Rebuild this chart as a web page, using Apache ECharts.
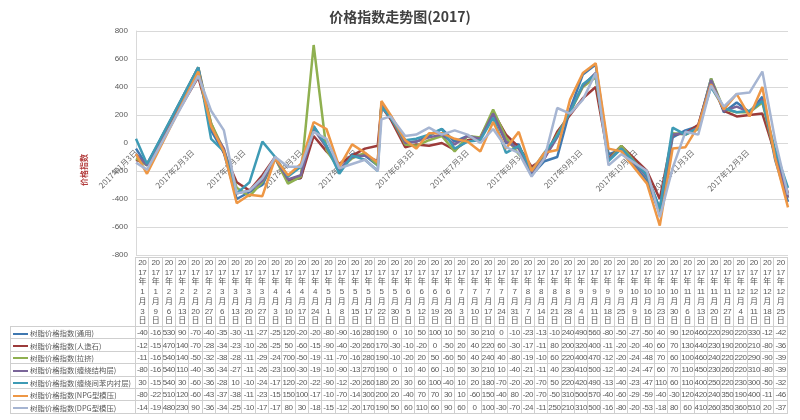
<!DOCTYPE html>
<html><head><meta charset="utf-8">
<script src="https://cdn.jsdelivr.net/npm/echarts@6/dist/echarts.min.js"></script>
<style>
html,body{margin:0;padding:0;background:#fff;}
#wrap{position:relative;width:800px;height:420px;overflow:hidden;background:#fff;}
#chart{position:absolute;left:0;top:0;width:800px;height:420px;}
#tbl{position:absolute;left:10px;top:257px;border-collapse:collapse;table-layout:fixed;width:778px;font-family:"Liberation Sans","Noto Sans CJK SC",sans-serif;color:#595959;}
#tbl td{border:1px solid #cfcfcf;padding:0;text-align:center;font-size:8px;white-space:nowrap;overflow:visible;letter-spacing:-0.4px;}
#tbl tr.hd td{height:68px;line-height:9.7px;vertical-align:middle;}
#tbl tr.dr td{height:11.4px;line-height:11px;}
#tbl td.lg{text-align:left;font-size:7.4px;letter-spacing:0;font-family:"Noto Sans CJK SC",sans-serif;}
#tbl td.blank{border:none;border-bottom:1px solid #cfcfcf;}
.mk{display:inline-block;width:15px;height:2px;vertical-align:middle;margin:0 2px 1px 2px;}
</style></head>
<body><div id="wrap"><div id="chart"></div><table id="tbl"></table></div>
<script>
const dates = ['2017-01-03','2017-01-09','2017-02-06','2017-02-13','2017-02-20','2017-02-27','2017-03-06','2017-03-13','2017-03-20','2017-03-27',
'2017-04-03','2017-04-10','2017-04-17','2017-04-24','2017-05-01','2017-05-08','2017-05-15','2017-05-17','2017-05-22','2017-05-30',
'2017-06-05','2017-06-12','2017-06-19','2017-06-26','2017-07-03','2017-07-10','2017-07-17','2017-07-24','2017-07-31','2017-08-07',
'2017-08-14','2017-08-21','2017-08-28','2017-09-04','2017-09-11','2017-09-18','2017-09-25','2017-10-09','2017-10-16','2017-10-23',
'2017-10-30','2017-11-06','2017-11-13','2017-11-20','2017-11-27','2017-12-04','2017-12-11','2017-12-18','2017-12-25'];

const monthTicks = ['2017-01-03','2017-02-03','2017-03-03','2017-04-03','2017-05-03','2017-06-03','2017-07-03','2017-08-03','2017-09-03','2017-10-03','2017-11-03','2017-12-03'];

const seriesNames = ['树脂价格指数(通用)','树脂价格指数(人造石)','树脂价格指数(拉挤)','树脂价格指数(缠绕结构层)','树脂价格指数(缠绕间苯内衬层)','树脂价格指数(NPG型模压)','树脂价格指数(DPG型模压)'];

const general = [-40,-160,530,90,-70,-400,-350,-300,-110,-270,-250,120,-20,-200,-80,-90,-160,280,190,0,10,50,100,10,50,30,210,0,-10,-230,-130,-100,240,490,560,-80,-50,-270,-500,40,90,120,460,220,290,220,330,-120,-420];
const artStone = [-120,-150,470,140,-70,-280,-340,-230,-100,-260,-250,50,-60,-150,-90,-40,-20,260,170,-30,-10,-20,0,-50,20,40,220,60,-30,-170,-110,80,200,320,400,-110,-20,-200,-400,60,70,130,440,230,190,200,210,-80,-360];
const pultrusion = [-110,-160,540,140,-50,-320,-380,-280,-110,-290,-240,700,-50,-190,-110,-70,-160,280,190,-10,-20,20,50,-60,50,40,240,40,-80,-190,-100,60,220,400,470,-120,-20,-240,-480,70,60,100,460,240,220,220,290,-90,-390];
const windStruct = [-80,-160,540,110,-40,-360,-340,-270,-110,-260,-230,100,-30,-190,-100,-90,-130,270,190,0,10,40,60,-10,50,30,210,10,-40,-210,-110,40,230,410,500,-120,-40,-240,-470,60,70,110,450,230,260,220,310,-80,-390];
const windLiner = [30,-150,540,30,-60,-360,-280,10,-100,-240,-170,120,-20,-220,-90,-120,-200,260,180,20,30,60,100,-40,10,20,180,-70,-20,-200,-70,50,220,420,490,-130,-40,-230,-470,110,60,110,400,250,220,230,300,-50,-320];
const npgMold = [-80,-220,510,120,-60,-430,-370,-380,-110,-230,-150,150,100,-170,-10,-70,-140,300,200,20,-40,70,70,30,10,-60,150,-40,80,-200,-70,-50,310,500,570,-40,-60,-290,-590,-40,-30,120,420,240,350,190,400,-110,-460];
const dpgMold = [-140,-190,480,230,90,-360,-340,-250,-100,-170,-170,80,30,-180,-150,-120,-200,170,190,50,60,110,60,90,60,0,100,-30,-70,-240,-110,250,210,310,500,-160,-80,-200,-530,-180,80,60,410,260,350,360,510,20,-370];

const seriesValues = [general, artStone, pultrusion, windStruct, windLiner, npgMold, dpgMold];
const colors = ['#3F78B0','#9C3B3A','#8FB050','#7A6599','#3E9BB5','#EE9745','#A6B5D2'];

function ts(s){ const p = s.split('-').map(Number); return new Date(p[0], p[1]-1, p[2]).getTime(); }

// table (built first)
const tbl = document.getElementById('tbl');
let html = '<colgroup><col style="width:125px">';
for (let j=0;j<dates.length;j++) html += '<col style="width:13.306px">';
html += '</colgroup><tr class="hd"><td class="blank"></td>';
dates.forEach(d=>{ const p = d.split('-').map(Number); const y = String(p[0]);
  html += '<td>'+y.slice(0,2)+'<br>'+y.slice(2)+'<br>年<br>'+p[1]+'<br>月<br>'+p[2]+'<br>日</td>'; });
html += '</tr>';
seriesNames.forEach((n,i)=>{
  html += '<tr class="dr"><td class="lg"><span class="mk" style="background:'+colors[i]+'"></span>'+n+'</td>';
  seriesValues[i].forEach(v=>{ html += '<td>'+String(v).slice(0,3)+'</td>'; });
  html += '</tr>';
});
tbl.innerHTML = html;

const chart = echarts.init(document.getElementById('chart'), null, {renderer:'canvas'});
chart.setOption({
  animation:false,
  backgroundColor:'transparent',
  title:{text:'价格指数走势图(2017)', left:'center', top:5, textStyle:{fontSize:14, fontWeight:'bold', color:'#404040', fontFamily:'"Noto Sans CJK SC", sans-serif'}},
  grid:{left:136, right:12, top:31, bottom:165},
  xAxis:{
    type:'value', min:ts(dates[0]), max:ts(dates[dates.length-1]),
    offset:-112,
    axisLine:{show:false, onZero:false},
    axisTick:{show:false},
    splitLine:{show:false},
    axisLabel:{
      customValues: monthTicks.map(ts), rotate:45, margin:8, fontSize:8, color:'#6b6b6b',
      fontFamily:'"Noto Sans CJK SC", sans-serif', hideOverlap:false, showMinLabel:true, showMaxLabel:true,
      formatter: function(v){ const d = new Date(v); return d.getFullYear()+'年'+(d.getMonth()+1)+'月'+d.getDate()+'日'; }
    }
  },
  yAxis:{
    type:'value', min:-800, max:800, interval:200,
    axisLine:{show:true, onZero:false, lineStyle:{color:'#d9d9d9'}},
    axisTick:{show:false},
    axisLabel:{fontSize:8, color:'#595959', margin:8},
    splitLine:{lineStyle:{color:'#d9d9d9', width:1}}
  },
  graphic:[{type:'text', x:80, y:186, rotation:Math.PI/2, style:{text:'价格指数', fill:'#B23B3B', font:'bold 8px "Noto Sans CJK SC", sans-serif'}}],
  series: seriesNames.map((n,i)=>({
    name:n, type:'line', showSymbol:false, symbol:'none',
    lineStyle:{width:2.5, color:colors[i]}, itemStyle:{color:colors[i]},
    data: dates.map((d,j)=>[ts(d), seriesValues[i][j]])
  }))
});
</script></body></html>
